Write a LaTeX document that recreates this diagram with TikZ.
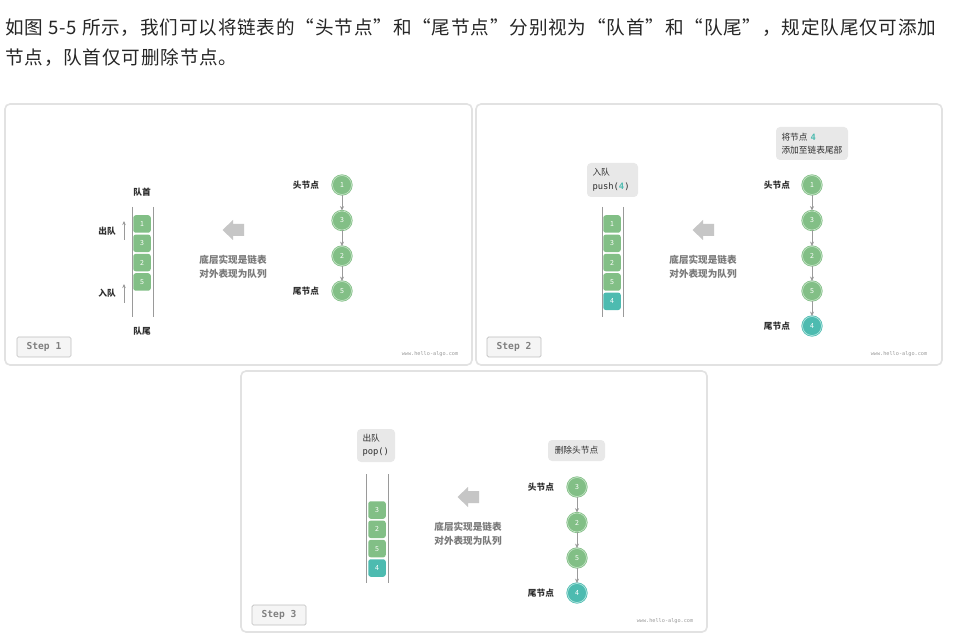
\documentclass[tikz,border=0pt]{standalone}
\usepackage{fontspec}
\setmainfont{Noto Sans CJK SC}
\newfontfamily\cjk{Noto Sans CJK SC}
\newfontfamily\cjkwide[LetterSpace=4.5]{Noto Sans CJK SC}
\newfontfamily\mono{DejaVu Sans Mono}
\usetikzlibrary{arrows.meta,calc}
\definecolor{qgreen}{HTML}{82BF86}
\definecolor{qlight}{HTML}{C9E6CB}
\definecolor{qteal}{HTML}{4DBBB0}
\definecolor{qtlight}{HTML}{BDEAE5}
\definecolor{panelc}{HTML}{E2E2E2}
\definecolor{calloutc}{HTML}{E8E8E8}
\definecolor{wallc}{HTML}{9A9A9A}
\definecolor{bigarr}{HTML}{C6C6C6}
\definecolor{midc}{HTML}{7A7A7A}
\definecolor{labc}{HTML}{2E2E2E}
\tikzset{
  panel/.style={draw=panelc, line width=1.6pt, rounded corners=5pt, fill=white},
  qbox/.style={fill=qgreen, rounded corners=2.5pt, minimum width=17.5pt, minimum height=17.5pt, inner sep=0pt, text=white, font=\cjk\fontsize{7}{7}\selectfont},
  qboxt/.style={qbox, fill=qteal},
  lnode/.style={circle, fill=qgreen, draw=qgreen, double=qlight, double distance=0.6pt, line width=0.8pt, minimum size=19pt, inner sep=0pt, text=white, font=\cjk\fontsize{7}{7}\selectfont},
  lnodet/.style={lnode, fill=qteal, draw=qteal, double=qtlight},
  larrow/.style={draw=wallc, line width=0.8pt, -{Stealth[length=4.5pt,width=4pt]}},
  garrow/.style={draw=wallc, line width=0.8pt, -{Stealth[length=4pt,width=3.5pt]}},
  qwall/.style={draw=wallc, line width=0.8pt},
  qlabel/.style={text=labc, font=\cjk\bfseries\fontsize{8.7}{10}\selectfont, inner sep=0pt},
  midtext/.style={text=midc, align=center, font=\cjk\bfseries\fontsize{9.6}{14}\selectfont, inner sep=0pt},
  callout/.style={fill=calloutc, rounded corners=4pt, text=labc, align=left, inner sep=0pt, font=\cjk\fontsize{8.7}{13.5}\selectfont},
  stepbtn/.style={draw=black!25, fill=black!4, line width=0.7pt, rounded corners=1.5pt, minimum width=54pt, minimum height=20pt, inner sep=0pt, text=black!50, font=\mono\bfseries\fontsize{9.6}{10}\selectfont},
  wmark/.style={text=black!40, font=\mono\fontsize{5.2}{6}\selectfont, inner sep=0pt},
}
\newcommand{\bigarrow}[1]{\fill[bigarr] ($(#1)+(-10.5,0)$) -- ($(#1)+(0,-10)$) -- ($(#1)+(0,-6)$) -- ($(#1)+(11,-6)$) -- ($(#1)+(11,6)$) -- ($(#1)+(0,6)$) -- ($(#1)+(0,10)$) -- cycle;}
\begin{document}
\begin{tikzpicture}[x=1pt,y=-1pt]
\useasboundingbox (0,0) rectangle (956,636);
\fill[white] (0,0) rectangle (956,636);
% top text
\node[anchor=west, inner sep=0pt, text=black!85, font=\cjkwide\fontsize{18.6}{20}\selectfont] (t1) at (5,28) {如图 5-5 所示，我们可以将链表的“头节点”和“尾节点”分别视为“队首”和“队尾”，规定队尾仅可添加};
\node[anchor=west, inner sep=0pt, text=black!85, font=\cjkwide\fontsize{18.6}{20}\selectfont] (t2) at (5,58) {节点，队首仅可删除节点。};

% ---------- panel 1 ----------
\path[panel] (5,104) rectangle (472,365);
\node[qlabel] (qh1) at (142,192) {队首};
\draw[qwall] (132,207) -- (132,317);
\draw[qwall] (153,207) -- (153,317);
\node[qbox] (a11) at (142,224) {1};
\node[qbox] (a12) at (142,243.3) {3};
\node[qbox] (a13) at (142,262.6) {2};
\node[qbox] (a14) at (142,282) {5};
\node[qlabel] (out1) at (107,231) {出队};
\coordinate (o1s) at (124,240); \coordinate (o1e) at (124,221);
\draw[garrow] (o1s) -- (o1e);
\node[qlabel] (in1) at (107,293) {入队};
\coordinate (i1s) at (124,303); \coordinate (i1e) at (124,284);
\draw[garrow] (i1s) -- (i1e);
\node[qlabel] (qt1) at (142,331) {队尾};
\coordinate (ba1) at (233,230);
\bigarrow{ba1}
\node[midtext] (m1) at (233,267) {底层实现是链表\\对外表现为队列};
\node[lnode] (n11) at (342,185) {1};
\node[lnode] (n12) at (342,220.5) {3};
\node[lnode] (n13) at (342,256) {2};
\node[lnode] (n14) at (342,291) {5};
\draw[larrow] (n11) -- (n12);
\draw[larrow] (n12) -- (n13);
\draw[larrow] (n13) -- (n14);
\node[qlabel] (hl1) at (306,185) {头节点};
\node[qlabel] (tl1) at (306,291) {尾节点};
\node[stepbtn] (s1) at (44,347) {Step 1};
\node[wmark] (w1) at (430,354) {www.hello-algo.com};

% ---------- panel 2 ----------
\path[panel] (476,104) rectangle (942,365);
\node[callout, minimum width=51pt, minimum height=34pt, text width=40pt] (c21) at (612.5,180) {入队\\{\mono\fontsize{8.8}{13.5}\selectfont push(\textcolor{qteal}{\bfseries 4})}};
\draw[qwall] (602,207) -- (602,317);
\draw[qwall] (623,207) -- (623,317);
\node[qbox] (a21) at (612,224) {1};
\node[qbox] (a22) at (612,243.3) {3};
\node[qbox] (a23) at (612,262.6) {2};
\node[qbox] (a24) at (612,282) {5};
\node[qboxt] (a25) at (612,301.3) {4};
\coordinate (ba2) at (703,230);
\bigarrow{ba2}
\node[midtext] (m2) at (703,267) {底层实现是链表\\对外表现为队列};
\node[callout, minimum width=72pt, minimum height=33pt, text width=61pt] (c22) at (812,143.5) {将节点 {\mono\bfseries\textcolor{qteal}{4}}\\添加至链表尾部};
\node[lnode] (n21) at (812,185) {1};
\node[lnode] (n22) at (812,220.5) {3};
\node[lnode] (n23) at (812,256) {2};
\node[lnode] (n24) at (812,291) {5};
\node[lnodet] (n25) at (812,326) {4};
\draw[larrow] (n21) -- (n22);
\draw[larrow] (n22) -- (n23);
\draw[larrow] (n23) -- (n24);
\draw[larrow] (n24) -- (n25);
\node[qlabel] (hl2) at (777,185) {头节点};
\node[qlabel] (tl2) at (777,326) {尾节点};
\node[stepbtn] (s2) at (514,347) {Step 2};
\node[wmark] (w2) at (899,354) {www.hello-algo.com};

% ---------- panel 3 ----------
\path[panel] (241,371) rectangle (707,632);
\node[callout, minimum width=38pt, minimum height=33pt, text width=27pt] (c31) at (376,445.5) {出队\\{\mono\fontsize{8.8}{13.5}\selectfont pop()}};
\draw[qwall] (366,474) -- (366,583);
\draw[qwall] (388,474) -- (388,583);
\node[qbox] (a31) at (377,510) {3};
\node[qbox] (a32) at (377,529.3) {2};
\node[qbox] (a33) at (377,548.6) {5};
\node[qboxt] (a34) at (377,568) {4};
\coordinate (ba3) at (468,497);
\bigarrow{ba3}
\node[midtext] (m3) at (468,534) {底层实现是链表\\对外表现为队列};
\node[callout, minimum width=57pt, minimum height=21pt, align=center] (c32) at (576.5,450.5) {删除头节点};
\node[lnode] (n31) at (577,487) {3};
\node[lnode] (n32) at (577,522.5) {2};
\node[lnode] (n33) at (577,558) {5};
\node[lnodet] (n34) at (577,593) {4};
\draw[larrow] (n31) -- (n32);
\draw[larrow] (n32) -- (n33);
\draw[larrow] (n33) -- (n34);
\node[qlabel] (hl3) at (541,487) {头节点};
\node[qlabel] (tl3) at (541,593) {尾节点};
\node[stepbtn] (s3) at (279,615) {Step 3};
\node[wmark] (w3) at (665,621) {www.hello-algo.com};
\end{tikzpicture}
\end{document}
